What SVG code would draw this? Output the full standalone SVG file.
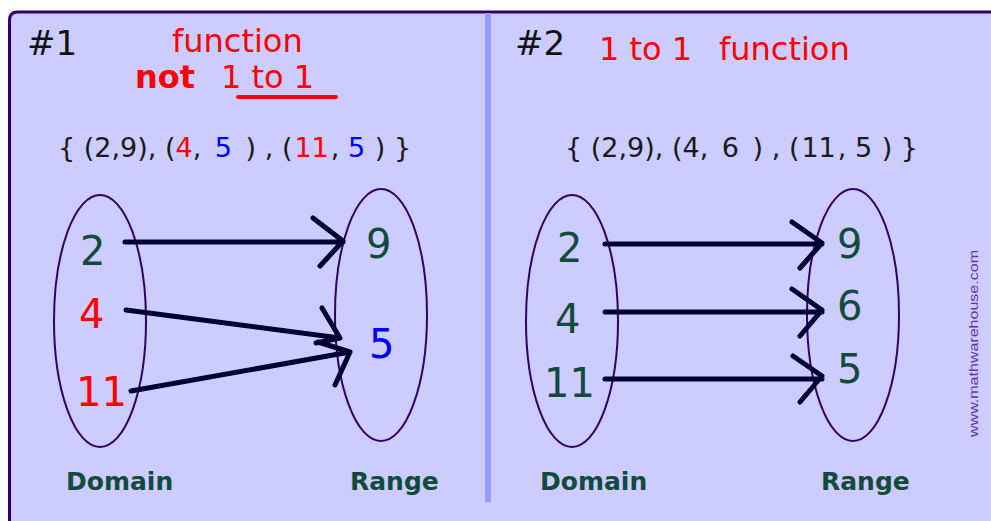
<svg xmlns="http://www.w3.org/2000/svg" width="991" height="521" viewBox="0 0 991 521">
<style>
text{font-family:"DejaVu Sans","Verdana",sans-serif}
.hdr{font-size:34px;fill:#111}
.ttl{font-size:32px;fill:#ff0000}
.set{font-size:27px;fill:#1a1a1a}
.num{font-size:40px}
.g{fill:#124a3c}
.r{fill:#ff0000}
.b{fill:#0000ff}
.lbl{font-size:25px;font-weight:bold;fill:#124a3c}
.ell{fill:none;stroke:#330066;stroke-width:2}
.arr{fill:none;stroke:#000033;stroke-width:5;stroke-linecap:round;stroke-linejoin:round}
</style>
<rect width="991" height="521" fill="#ffffff"/>
<path d="M10 521 V20 Q10 12 18 12 H991 V521 Z" fill="#ccccff"/>
<path d="M9.5 521 V20 Q9.5 12 17.5 12 H991" fill="none" stroke="#330066" stroke-width="3"/>
<rect x="485" y="13" width="6" height="489" fill="#9999ff"/>

<g id="panel1-header">
<text class="hdr" x="27" y="55">#1</text>
<text class="ttl" x="172" y="52">function</text>
<text class="ttl" x="135" y="88" font-weight="bold">not</text>
<text class="ttl" x="221" y="88">1 to 1</text>
<line x1="238" y1="97" x2="336" y2="97" stroke="#ff0000" stroke-width="4" stroke-linecap="round"/>
<text class="set" x="58" y="157">{ (2,9), (<tspan class="r">4</tspan>, <tspan class="b" dx="5">5</tspan> <tspan dx="5">)</tspan> , (<tspan class="r" dx="2">11</tspan><tspan dx="2">,</tspan> <tspan class="b">5</tspan> <tspan dx="1">)</tspan> }</text>
</g>

<g id="panel1-domain">
<ellipse class="ell" cx="100" cy="321" rx="46" ry="126"/>
<text class="num g" x="80" y="265">2</text>
<text class="num r" x="79" y="328">4</text>
<text class="num r" x="76" y="406">11</text>
<text class="lbl" x="66" y="490">Domain</text>
</g>

<g id="panel1-range">
<ellipse class="ell" cx="381" cy="315" rx="46" ry="126"/>
<text class="num g" x="366" y="258">9</text>
<text class="num b" x="369" y="358">5</text>
<text class="lbl" x="350" y="490">Range</text>
</g>

<g id="panel2-header">
<text class="hdr" x="515" y="55">#2</text>
<text class="ttl" x="599" y="60">1 to 1</text>
<text class="ttl" x="719" y="60">function</text>
<text class="set" x="565" y="157">{ (2,9), (4, <tspan dx="5">6</tspan> <tspan dx="5">)</tspan> , (<tspan dx="2">11</tspan><tspan dx="2">,</tspan> 5 <tspan dx="1">)</tspan> }</text>
</g>

<g id="panel2-domain">
<ellipse class="ell" cx="572" cy="321" rx="46" ry="126"/>
<text class="num g" x="557" y="262">2</text>
<text class="num g" x="555" y="333">4</text>
<text class="num g" x="544" y="397">11</text>
<text class="lbl" x="540" y="490">Domain</text>
</g>

<g id="panel2-range">
<ellipse class="ell" cx="853" cy="315" rx="46" ry="126"/>
<text class="num g" x="837" y="258">9</text>
<text class="num g" x="837" y="320">6</text>
<text class="num g" x="837" y="383">5</text>
<text class="lbl" x="821" y="490">Range</text>
</g>

<g id="connectors">
<path class="arr" d="M125 242 H343 M313 218 L343 241 L320 266"/>
<path class="arr" d="M126 310 L340 338 M322 308 L340 338 L316 343"/>
<path class="arr" d="M131 391 L350 352 M318 342 L350 352 L335 385"/>
<path class="arr" d="M605 244 H822 M792 222 L822 243 L800 268"/>
<path class="arr" d="M605 312 H822 M792 289 L822 310 L800 336"/>
<path class="arr" d="M605 379 H822 M793 356 L822 376 L800 402"/>
</g>

<text id="watermark" transform="translate(978 437) rotate(-90)" font-size="12" fill="#6633aa" textLength="187" lengthAdjust="spacingAndGlyphs" style="font-family:'Liberation Sans',Arial,sans-serif">www.mathwarehouse.com</text>
</svg>
